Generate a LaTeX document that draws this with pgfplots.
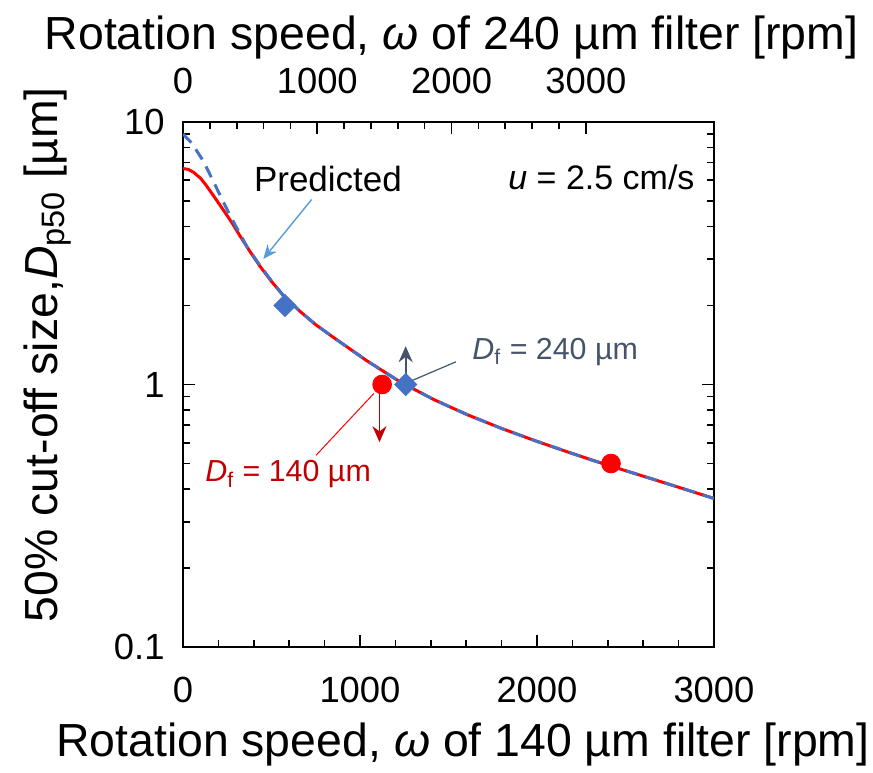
\documentclass[border=0pt]{standalone}
\usepackage{fontspec}
\setmainfont{Liberation Sans}
\usepackage{pgfplots}
\pgfplotsset{compat=1.18}
\usetikzlibrary{arrows.meta}
\definecolor{cblue}{HTML}{4472C4}
\definecolor{cred}{HTML}{FF0000}
\definecolor{dred}{HTML}{C00000}
\definecolor{slate}{HTML}{44546A}
\definecolor{lblue}{HTML}{5B9BD5}
\begin{document}
\begin{tikzpicture}
\path (-91.5pt,-62.5pt) rectangle (345pt,323.5pt);
\pgfplotsset{
  every axis/.append style={
    scale only axis, width=265.5pt, height=262.5pt,
    tick align=inside,
    major tick length=6pt, minor tick length=3.5pt,
    axis line style={line width=1pt},
    every tick/.style={black, line width=0.8pt},
    tick label style={font=\fontsize{18.2}{21}\selectfont},
    /pgf/number format/assume math mode=true,
  },
}
% top axis: 240 um filter speed
\begin{axis}[
  xmin=0, xmax=3955, ymin=0.1, ymax=10, ymode=log,
  axis x line*=top, hide y axis,
  xtick={0,1000,2000,3000}, minor x tick num=4,
  xticklabel style={anchor=south, inner sep=0pt, yshift=14pt},
  /pgf/number format/1000 sep={},
]
\end{axis}
% main axis
\begin{axis}[
  xmin=0, xmax=3000, ymin=0.1, ymax=10, ymode=log,
  xtick={0,1000,2000,3000}, minor x tick num=4, xtick pos=bottom,
  ytick={0.1,1,10}, yticklabels={0.1,1,10}, ytick pos=both,
  xticklabel style={anchor=north, inner sep=0pt, yshift=-15pt},
  yticklabel style={anchor=east, inner sep=0pt, xshift=-9pt},
  /pgf/number format/1000 sep={},
  xlabel={Rotation speed, \textit{ω} of 140 µm filter [rpm]},
  ylabel={50\% cut-off size,\textit{D}\textsubscript{p50} [µm]},
  xlabel style={at={(axis description cs:0.527,-0.2095)}, anchor=base, inner sep=0pt, font=\fontsize{23.2}{27}\selectfont},
  ylabel style={at={(axis description cs:-0.237,0.557)}, anchor=base, inner sep=0pt, rotate=0, font=\fontsize{23.2}{27}\selectfont},
]
\addplot[cred, line width=1.5pt] coordinates {
  (0,6.65) (30,6.6) (60,6.43) (100,6.1) (130,5.75) (180,5.15) (230,4.6)
  (280,4.1) (320,3.7) (380,3.2) (435,2.82) (500,2.47) (570,2.17) (661,1.90)
  (750,1.69) (851,1.51) (1040,1.23) (1230,1.02) (1419,0.875) (1609,0.766)
  (1798,0.681) (1989,0.611) (2178,0.552) (2367,0.501) (2557,0.457)
  (2746,0.417) (3000,0.368)};
\addplot[cblue, line width=1.5pt, dash pattern=on 6pt off 4pt] coordinates {
  (0,9.0) (50,8.3) (115,7.1) (190,5.6) (266,4.4) (360,3.36) (435,2.84)
  (500,2.48) (570,2.17) (661,1.90) (750,1.69) (851,1.51) (1040,1.23)
  (1230,1.02) (1419,0.875) (1609,0.766) (1798,0.681) (1989,0.611)
  (2178,0.552) (2367,0.501) (2557,0.457) (2746,0.417) (3000,0.368)};
\addplot[only marks, mark=*, mark size=4.7pt, cred] coordinates {(1125,1.0) (2418,0.5)};
\addplot[only marks, mark=square*, mark size=3.9pt, cblue, mark options={rotate=45}]
  coordinates {(576,2.0) (1258,1.0)};
% annotations
\draw[lblue, line width=0.7pt, -{Stealth[length=7pt,width=6pt]}] (axis cs:727,5.07) -- (axis cs:454,3.01);
\draw[slate, line width=0.9pt, -{Stealth[length=8pt,width=7pt]}] (axis cs:1258,1.09) -- (axis cs:1258,1.40);
\draw[dred, line width=0.9pt, -{Stealth[length=8pt,width=7pt]}] (axis cs:1110,0.97) -- (axis cs:1110,0.603);
\draw[slate, line width=0.6pt] (axis cs:1542,1.22) -- (axis cs:1286,1.03);
\draw[cred, line width=0.5pt] (axis cs:1078,0.924) -- (axis cs:751,0.537);
\node[anchor=base west, inner sep=0pt, font=\fontsize{17.5}{20}\selectfont] at (axis cs:399,5.44) {Predicted};
\node[anchor=base west, inner sep=0pt, font=\fontsize{17}{20}\selectfont] at (axis cs:1836,5.55) {\textit{u} = 2.5 cm/s};
\node[anchor=base west, inner sep=0pt, slate, font=\fontsize{15.2}{18}\selectfont] at (axis cs:1633,1.249) {\textit{D}\textsubscript{f} = 240 µm};
\node[anchor=base west, inner sep=0pt, dred, font=\fontsize{15.2}{18}\selectfont] at (axis cs:124,0.427) {\textit{D}\textsubscript{f} = 140 µm};
\end{axis}
% top label
\node[anchor=base, inner sep=0pt, font=\fontsize{23.2}{27}\selectfont] at (0.5056*265.5pt, 262.5pt+36pt) {Rotation speed, \textit{ω} of 240 µm filter [rpm]};
\end{tikzpicture}
\end{document}
